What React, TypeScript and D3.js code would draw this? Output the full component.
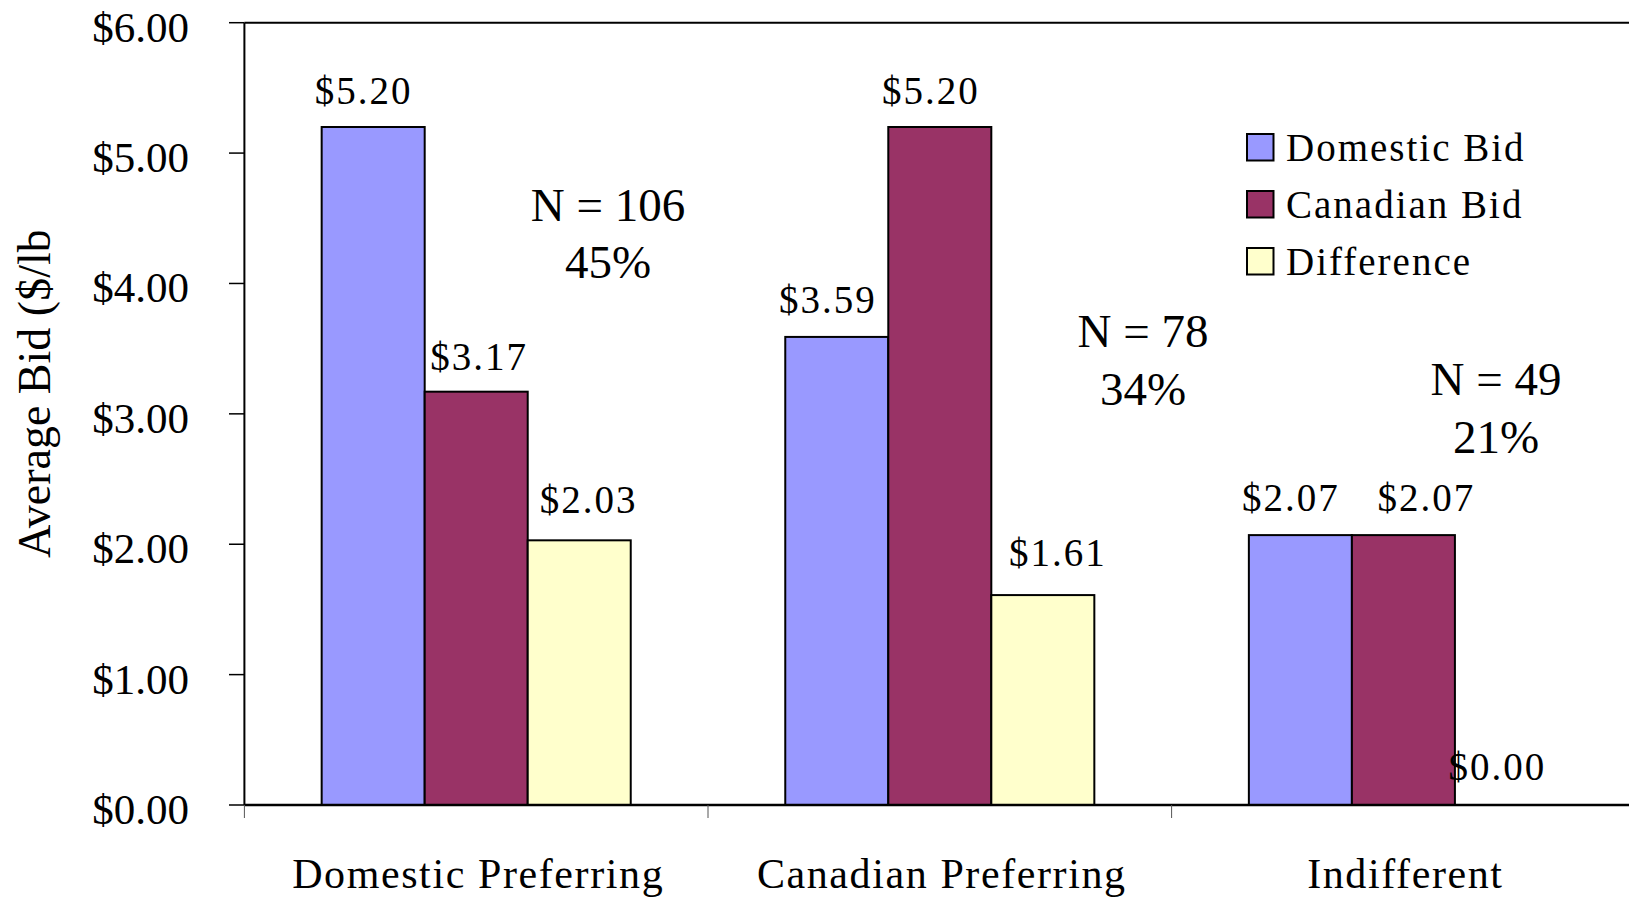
import React from "react";
import * as d3 from "d3";

const categories = ["Domestic Preferring", "Canadian Preferring", "Indifferent"];
const seriesNames = ["Domestic Bid", "Canadian Bid", "Difference"];
const domesticBid = [5.2, 3.59, 2.07];
const canadianBid = [3.17, 5.2, 2.07];
const difference = [2.03, 1.61, 0.0];
const yTicks = [0, 1, 2, 3, 4, 5, 6];
const groupCounts = ["N = 106", "N = 78", "N = 49"];
const groupShares = ["45%", "34%", "21%"];

const seriesColors = ["#9999FF", "#993366", "#FFFFCC"];
const seriesValues = [domesticBid, canadianBid, difference];

// per-label nudges (label boxes were moved by hand in the original): [series][category]
const labelDx = [
  [-9.5, -9, -9.5],
  [3, -9, 23],
  [9.5, 15, -9],
];
const labelRise = [
  [23.4, 23.6, 24.6],
  [22, 23.4, 24],
  [27.4, 29.2, 25],
];

const W = 1629;
const H = 898;
const plotLeft = 244.4;
const plotTop = 22.7;
const plotBottom = 805;
const bandW = 463.6;

// annotation layout (pixel positions of free text boxes)
const annoLayout = [
  { x: 608, y1: 220.7, y2: 278.3 },
  { x: 1143, y1: 346.7, y2: 405 },
  { x: 1496, y1: 395, y2: 453 },
];

const FONT = "'Liberation Serif', 'Times New Roman', Times, serif";

export default function App() {
  const x = d3
    .scaleBand<string>()
    .domain(categories)
    .range([plotLeft, plotLeft + bandW * categories.length])
    .padding(0);
  const xs = d3
    .scaleBand<string>()
    .domain(seriesNames)
    .range([0, x.bandwidth()])
    .paddingInner(0)
    .paddingOuter(0.75);
  const y = d3.scaleLinear().domain([0, 6]).range([plotBottom, plotTop]);
  const fmt = (v: number) => "$" + d3.format(".2f")(v);
  const plotRight = W;

  return (
    <svg
      width={W}
      height={H}
      style={{ position: "absolute", left: 0, top: 0, display: "block", background: "#fff" }}
      fontFamily={FONT}
    >
      <defs>
        <clipPath id="titleClip">
          <rect x={0} y={231.5} width={120} height={600} />
        </clipPath>
      </defs>
      <rect x={0} y={0} width={W} height={H} fill="#fff" />

      {/* bars */}
      {categories.map((c, ci) =>
        seriesNames.map((s, si) => {
          const v = seriesValues[si][ci];
          const bx = (x(c) as number) + (xs(s) as number);
          const by = y(v);
          return v > 0 ? (
            <rect
              key={c + s}
              x={bx}
              y={by}
              width={xs.bandwidth()}
              height={y(0) - by}
              fill={seriesColors[si]}
              stroke="#000"
              strokeWidth={2}
            />
          ) : null;
        })
      )}

      {/* frame / axes */}
      <line x1={plotLeft} x2={plotRight} y1={plotTop} y2={plotTop} stroke="#000" strokeWidth={2} />
      <line x1={plotLeft} x2={plotLeft} y1={plotTop} y2={plotBottom} stroke="#000" strokeWidth={2} />
      <line x1={plotLeft} x2={plotRight} y1={plotBottom} y2={plotBottom} stroke="#000" strokeWidth={2.5} />

      {/* y ticks */}
      {yTicks.map((t) => (
        <g key={t}>
          <line x1={229} x2={plotLeft} y1={y(t)} y2={y(t)} stroke="#000" strokeWidth={1.5} />
          <text x={189} y={y(t) + 19} textAnchor="end" fontSize={43} fill="#000">
            {fmt(t)}
          </text>
        </g>
      ))}

      {/* x category ticks */}
      {categories.map((c) => (
        <line
          key={"t" + c}
          x1={x(c) as number}
          x2={x(c) as number}
          y1={plotBottom}
          y2={818}
          stroke="#555"
          strokeWidth={1}
        />
      ))}

      {/* category labels */}
      {categories.map((c) => (
        <text
          key={"l" + c}
          x={(x(c) as number) + x.bandwidth() / 2 + 2}
          y={888.3}
          textAnchor="middle"
          fontSize={42}
          letterSpacing={1.6}
          fill="#000"
        >
          {c}
        </text>
      ))}

      {/* value labels */}
      {categories.map((c, ci) =>
        seriesNames.map((s, si) => {
          const v = seriesValues[si][ci];
          const cx = (x(c) as number) + (xs(s) as number) + xs.bandwidth() / 2;
          return (
            <text
              key={"v" + c + s}
              x={cx + labelDx[si][ci]}
              y={y(v) - labelRise[si][ci]}
              textAnchor="middle"
              fontSize={39}
              letterSpacing={2}
              fill="#000"
            >
              {fmt(v)}
            </text>
          );
        })
      )}

      {/* N annotations */}
      {annoLayout.map((a, i) => (
        <g key={"a" + i}>
          <text x={a.x} y={a.y1} textAnchor="middle" fontSize={47} fill="#000">
            {groupCounts[i]}
          </text>
          <text x={a.x} y={a.y2} textAnchor="middle" fontSize={47} fill="#000">
            {groupShares[i]}
          </text>
        </g>
      ))}

      {/* legend */}
      {seriesNames.map((s, i) => (
        <g key={"lg" + s} transform={`translate(1247, ${134 + i * 57})`}>
          <rect x={0} y={0} width={26.5} height={26.5} fill={seriesColors[i]} stroke="#000" strokeWidth={2} />
          <text x={39} y={26.5} fontSize={39} letterSpacing={2} fill="#000">
            {s}
          </text>
        </g>
      ))}

      {/* y axis title */}
      <g clipPath="url(#titleClip)">
        <text transform="translate(50, 558) rotate(-90)" fontSize={46} fill="#000">
          Average Bid ($/lb)
        </text>
      </g>
    </svg>
  );
}
